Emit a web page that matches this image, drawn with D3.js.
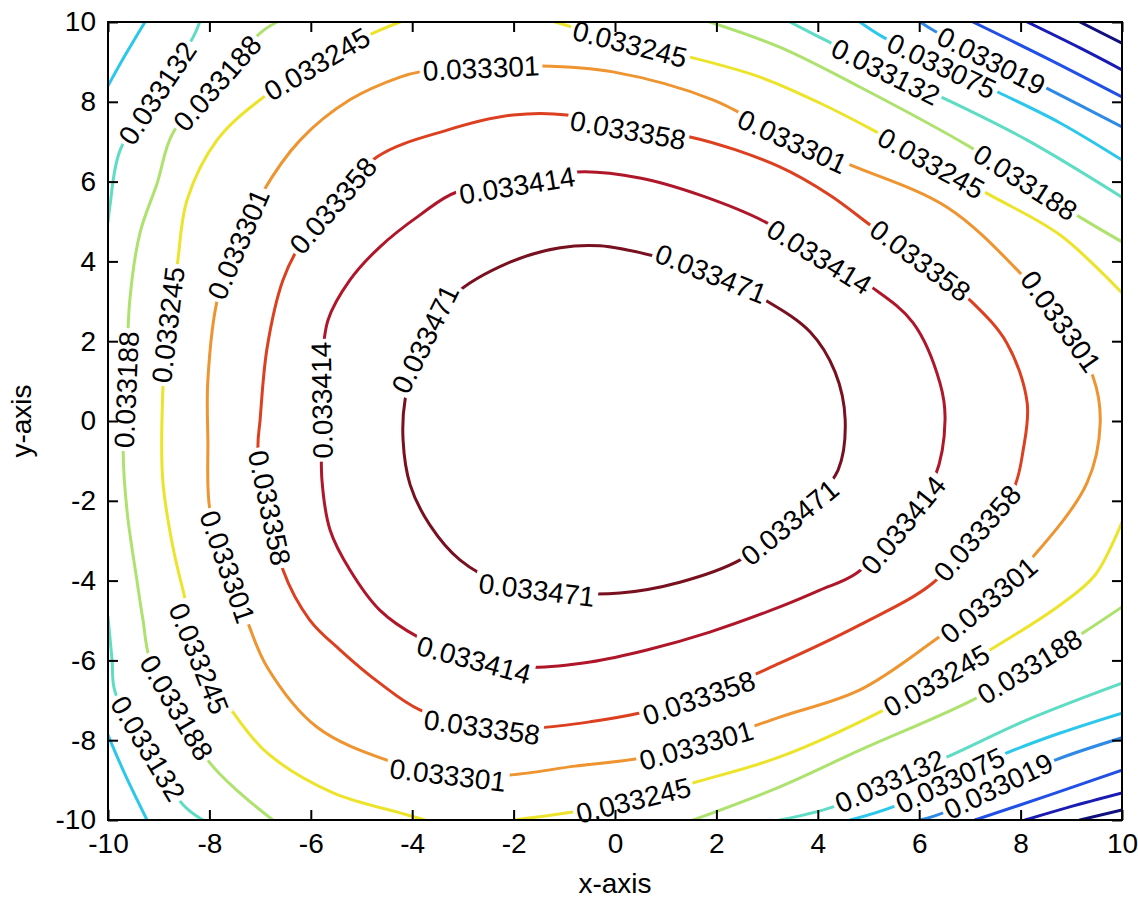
<!DOCTYPE html>
<html>
<head>
<meta charset="utf-8">
<script src="https://cdn.jsdelivr.net/npm/d3@7"></script>
<style>
  html, body { margin: 0; padding: 0; background: #ffffff; }
  svg text { font-family: "Liberation Sans", Arial, Helvetica, sans-serif; fill: #000; }
</style>
</head>
<body>
<svg id="chart" width="1138" height="899"></svg>
<script>
// Contour levels (low to high) and their jet-style colours
const levels = [0.032850, 0.032906, 0.032962, 0.033019, 0.033075, 0.033132,
                0.033188, 0.033245, 0.033301, 0.033358, 0.033414, 0.033471];
const levelColors = ["#10107e", "#1a1ab4", "#2250e6", "#2f8ae6", "#2cc8ec", "#5edcc4",
                     "#aee26e", "#ece42a", "#ee9430", "#dc4020", "#b0162a", "#781020"];

const xTickValues = [-10, -8, -6, -4, -2, 0, 2, 4, 6, 8, 10];
const yTickValues = [-10, -8, -6, -4, -2, 0, 2, 4, 6, 8, 10];

// Contour traces, [x, y] in axis units
const contour_033471 = [[-1.08,4.34],[-0.30,4.39],[0.75,4.14],[1.87,3.71],[2.96,3.03],[3.85,2.23],[4.34,1.23],[4.54,0.03],[4.40,-1.23],[3.94,-1.98],[3.45,-2.53],[2.47,-3.48],[1.28,-4.04],[0.10,-4.31],[-1.08,-4.29],[-2.27,-4.04],[-3.06,-3.48],[-3.65,-2.61],[-4.04,-1.60],[-4.18,-0.48],[-4.14,0.53],[-3.85,1.78],[-3.16,3.16],[-2.07,3.98]];
const contour_033414 = [[-1.93,5.91],[-0.75,6.24],[0.49,6.09],[1.68,5.66],[2.96,4.99],[4.04,4.11],[5.09,3.33],[5.88,2.46],[6.41,0.95],[6.51,0.03],[6.31,-1.40],[5.68,-2.61],[4.77,-3.81],[4.04,-4.24],[3.25,-4.66],[1.87,-5.29],[0.63,-5.74],[-0.49,-6.04],[-1.68,-6.17],[-2.76,-5.99],[-3.89,-5.41],[-4.64,-4.74],[-5.23,-3.73],[-5.62,-2.73],[-5.78,-1.48],[-5.78,0.03],[-5.78,1.28],[-5.66,2.53],[-5.23,3.53],[-4.64,4.36],[-3.85,5.16],[-3.12,5.74]];
const contour_033358 = [[0.26,7.29],[1.48,7.12],[3.25,6.37],[4.24,5.66],[5.09,4.86],[6.07,3.98],[7.00,3.03],[7.73,1.95],[8.13,0.45],[8.05,-0.73],[7.85,-1.73],[7.14,-2.81],[6.27,-4.06],[4.83,-5.11],[3.25,-6.07],[1.68,-6.92],[0.49,-7.32],[-0.49,-7.54],[-1.54,-7.69],[-2.62,-7.67],[-3.85,-7.24],[-4.64,-6.57],[-5.42,-5.74],[-6.02,-4.99],[-6.55,-3.73],[-6.80,-2.23],[-7.04,-0.73],[-7.00,0.03],[-6.86,1.85],[-6.55,3.53],[-6.21,4.41],[-5.56,5.41],[-4.69,6.62],[-3.31,7.29],[-2.01,7.67],[-0.95,7.67]];
const contour_033301 = [[-3.85,8.75],[-2.64,8.85],[-1.48,8.90],[-0.04,8.75],[1.93,8.05],[3.45,7.04],[4.64,6.42],[6.55,5.36],[7.99,3.71],[8.78,2.53],[9.43,1.10],[9.57,-0.05],[9.31,-1.55],[8.24,-3.41],[7.36,-4.49],[6.31,-5.49],[4.83,-6.74],[3.25,-7.42],[1.62,-8.12],[0.49,-8.45],[-0.79,-8.65],[-2.07,-8.87],[-3.29,-8.87],[-4.50,-8.50],[-5.88,-7.67],[-6.86,-6.17],[-7.26,-4.99],[-7.63,-3.68],[-7.99,-2.23],[-8.03,-0.48],[-8.03,1.03],[-7.83,3.11],[-7.44,4.41],[-6.96,5.71],[-6.21,7.04],[-5.23,8.05],[-4.24,8.62]];
const contour_033245_top = [[-1.18,10.00],[-0.30,9.67],[0.30,9.45],[1.48,9.12],[2.86,8.62],[4.04,7.97],[5.09,7.29],[6.23,6.47],[7.40,5.66],[8.78,4.66],[10.00,3.21]];
const contour_033245_bottom = [[10.00,-2.53],[9.47,-3.86],[8.78,-4.61],[7.46,-5.69],[6.35,-6.49],[5.23,-7.29],[3.25,-8.42],[1.54,-9.07],[0.36,-9.50],[-0.83,-9.80],[-2.01,-10.00]];
const contour_033245_left = [[-3.75,-10.00],[-4.24,-9.82],[-5.56,-9.32],[-6.86,-8.32],[-7.54,-7.29],[-8.19,-5.99],[-8.44,-4.66],[-8.72,-3.16],[-8.92,-1.48],[-8.92,0.70],[-8.82,2.41],[-8.64,3.86],[-8.44,5.54],[-7.85,7.04],[-7.00,8.05],[-5.88,8.95],[-4.77,9.72],[-4.24,10.00]];
const contour_033188_left = [[-6.67,10.00],[-7.00,9.72],[-7.85,8.47],[-8.72,7.22],[-9.03,5.96],[-9.37,4.71],[-9.57,3.03],[-9.64,0.78],[-9.70,-0.80],[-9.62,-2.31],[-9.43,-3.99],[-9.31,-4.99],[-9.17,-5.99],[-8.64,-7.19],[-7.99,-8.57],[-7.40,-9.32],[-6.75,-10.00]];
const contour_033188_top = [[1.87,10.00],[3.25,9.37],[4.83,8.37],[7.00,6.87],[8.09,5.99],[9.17,5.11],[10.00,4.49]];
const contour_033188_bottom = [[10.00,-4.66],[9.23,-5.31],[8.15,-6.17],[7.06,-6.99],[4.83,-8.25],[3.25,-9.17],[1.54,-10.00]];
const contour_033132_upperLeft = [[-8.19,10.00],[-8.32,9.62],[-9.03,8.22],[-9.76,6.79],[-9.96,5.41],[-10.00,4.99]];
const contour_033132_lowerLeft = [[-10.00,-4.91],[-9.92,-5.99],[-9.86,-6.79],[-9.21,-8.20],[-8.52,-9.62],[-8.13,-10.00]];
const contour_033132_top = [[3.45,10.00],[4.14,9.55],[5.35,8.75],[6.55,8.05],[8.13,7.04],[10.00,5.61]];
const contour_033132_bottom = [[10.00,-6.57],[8.13,-7.49],[6.55,-8.42],[5.42,-9.02],[4.30,-9.67],[3.25,-10.00]];
const contour_033075_upperLeft = [[-10.00,8.40],[-9.66,9.17],[-9.27,10.00]];
const contour_033075_lowerLeft = [[-10.00,-7.87],[-9.66,-8.87],[-9.23,-10.00]];
const contour_033075_top = [[4.83,10.00],[5.29,9.62],[6.45,8.90],[7.59,8.22],[8.78,7.47],[10.00,6.54]];
const contour_033075_bottom = [[10.00,-7.32],[8.78,-7.82],[7.73,-8.32],[6.61,-9.00],[5.48,-9.67],[4.64,-10.00]];
const contour_033019_top = [[6.02,10.00],[6.27,9.80],[7.40,9.05],[8.58,8.30],[10.00,7.37]];
const contour_033019_bottom = [[10.00,-7.94],[8.68,-8.50],[7.55,-9.15],[6.51,-9.80],[6.02,-10.00]];
const contour_032962_top = [[7.06,10.00],[8.58,9.05],[10.00,8.12]];
const contour_032962_bottom = [[10.00,-8.75],[8.58,-9.37],[7.10,-10.00]];
const contour_032906_top = [[8.13,10.00],[9.17,9.35],[10.00,8.80]];
const contour_032906_bottom = [[10.00,-9.32],[8.97,-9.67],[8.09,-10.00]];
const contour_032850_top = [[9.17,10.00],[10.00,9.47]];
const contour_032850_bottom = [[10.00,-9.75],[9.17,-10.00]];

const contourPieces = [
  { level: 0.033471, points: contour_033471, closed: true },
  { level: 0.033414, points: contour_033414, closed: true },
  { level: 0.033358, points: contour_033358, closed: true },
  { level: 0.033301, points: contour_033301, closed: true },
  { level: 0.033245, points: contour_033245_top },
  { level: 0.033245, points: contour_033245_bottom },
  { level: 0.033245, points: contour_033245_left },
  { level: 0.033188, points: contour_033188_left },
  { level: 0.033188, points: contour_033188_top },
  { level: 0.033188, points: contour_033188_bottom },
  { level: 0.033132, points: contour_033132_upperLeft },
  { level: 0.033132, points: contour_033132_lowerLeft },
  { level: 0.033132, points: contour_033132_top },
  { level: 0.033132, points: contour_033132_bottom },
  { level: 0.033075, points: contour_033075_upperLeft },
  { level: 0.033075, points: contour_033075_lowerLeft },
  { level: 0.033075, points: contour_033075_top },
  { level: 0.033075, points: contour_033075_bottom },
  { level: 0.033019, points: contour_033019_top },
  { level: 0.033019, points: contour_033019_bottom },
  { level: 0.032962, points: contour_032962_top },
  { level: 0.032962, points: contour_032962_bottom },
  { level: 0.032906, points: contour_032906_top },
  { level: 0.032906, points: contour_032906_bottom },
  { level: 0.032850, points: contour_032850_top },
  { level: 0.032850, points: contour_032850_bottom }
];

// Where each inline level label sits (axis units); snapped onto its contour
const labels_033471 = [[1.85,3.58],[-3.71,2.03],[-1.54,-4.24],[3.45,-2.53]];
const labels_033414 = [[-1.93,5.91],[4.02,4.11],[5.68,-2.61],[-2.76,-5.89],[-5.78,0.53]];
const labels_033358 = [[0.26,7.29],[-5.56,5.41],[6.07,4.09],[7.14,-2.81],[1.68,-7.07],[-2.62,-7.67],[-6.96,-2.23]];
const labels_033301 = [[-2.64,8.80],[3.49,6.99],[8.78,2.48],[7.36,-4.49],[1.62,-8.20],[-3.29,-8.87],[-7.63,-3.66],[-7.40,4.41]];
const labels_033245 = [[0.30,9.42],[-5.88,8.95],[-8.82,2.41],[-8.19,-5.94],[0.36,-9.50],[6.35,-6.54],[6.23,6.47]];
const labels_033188 = [[-7.85,8.47],[-9.60,0.78],[-8.64,-7.19],[8.09,5.99],[8.15,-6.12]];
const labels_033132 = [[-9.03,8.22],[-9.21,-8.20],[5.35,8.75],[5.42,-9.02]];
const labels_033075 = [[6.45,8.90],[6.61,-9.00]];
const labels_033019 = [[7.42,9.05],[7.55,-9.15]];

const labelSets = [
  { level: 0.033471, anchors: labels_033471 },
  { level: 0.033414, anchors: labels_033414 },
  { level: 0.033358, anchors: labels_033358 },
  { level: 0.033301, anchors: labels_033301 },
  { level: 0.033245, anchors: labels_033245 },
  { level: 0.033188, anchors: labels_033188 },
  { level: 0.033132, anchors: labels_033132 },
  { level: 0.033075, anchors: labels_033075 },
  { level: 0.033019, anchors: labels_033019 }
];

// ---------------------------------------------------------------
const W = 1138, H = 899;
const plot = { left: 108, top: 22, right: 1122, bottom: 820 };
const FONT = 28;

const svg = d3.select("#chart");
svg.append("rect").attr("width", W).attr("height", H).attr("fill", "#fff");

const x = d3.scaleLinear().domain([-10, 10]).range([plot.left, plot.right]);
const y = d3.scaleLinear().domain([-10, 10]).range([plot.bottom, plot.top]);
const color = d3.scaleOrdinal().domain(levels).range(levelColors);
const fmt = d3.format(".6f");

const defs = svg.append("defs");
defs.append("clipPath").attr("id", "plot-clip")
  .append("rect")
  .attr("x", plot.left).attr("y", plot.top)
  .attr("width", plot.right - plot.left).attr("height", plot.bottom - plot.top);

const openLine = d3.line().x(d => x(d[0])).y(d => y(d[1])).curve(d3.curveCatmullRom.alpha(0.5));
const closedLine = d3.line().x(d => x(d[0])).y(d => y(d[1])).curve(d3.curveCatmullRomClosed.alpha(0.5));

const contourLayer = svg.append("g").attr("clip-path", "url(#plot-clip)");
const labelLayer = svg.append("g").attr("font-size", FONT);

const piecesByLevel = d3.group(contourPieces, d => d.level);
const labelsByLevel = new Map(labelSets.map(d => [d.level, d.anchors]));

levels.forEach((lv, i) => {
  const pieces = piecesByLevel.get(lv) || [];
  if (!pieces.length) return;
  const maskId = "label-gap-" + i;
  const mask = defs.append("mask").attr("id", maskId)
    .attr("maskUnits", "userSpaceOnUse")
    .attr("x", 0).attr("y", 0).attr("width", W).attr("height", H);
  mask.append("rect").attr("x", 0).attr("y", 0).attr("width", W).attr("height", H).attr("fill", "#fff");

  const g = contourLayer.append("g").attr("mask", `url(#${maskId})`);
  const nodes = pieces.map(p => g.append("path")
    .attr("d", (p.closed ? closedLine : openLine)(p.points))
    .attr("fill", "none")
    .attr("stroke", color(lv))
    .attr("stroke-width", 3)
    .attr("stroke-linejoin", "round")
    .attr("stroke-linecap", "round")
    .node());

  (labelsByLevel.get(lv) || []).forEach(a => {
    const px = x(a[0]), py = y(a[1]);
    let best = null;
    nodes.forEach(node => {
      const L = node.getTotalLength();
      for (let s = 0; s <= L; s += 1) {
        const pt = node.getPointAtLength(s);
        const d = (pt.x - px) ** 2 + (pt.y - py) ** 2;
        if (!best || d < best.d) best = { d, node, s, L, pt };
      }
    });
    const p0 = best.node.getPointAtLength(Math.max(0, best.s - 8));
    const p1 = best.node.getPointAtLength(Math.min(best.L, best.s + 8));
    let ang = Math.atan2(p1.y - p0.y, p1.x - p0.x) * 180 / Math.PI;
    if (ang > 90) ang -= 180;
    else if (ang <= -90) ang += 180;
    if (ang > 86) ang -= 180;
    const tf = `translate(${best.pt.x},${best.pt.y}) rotate(${ang})`;
    const t = labelLayer.append("text")
      .attr("transform", tf)
      .attr("text-anchor", "middle")
      .attr("dy", "0.36em")
      .text(fmt(lv));
    const w = t.node().getComputedTextLength();
    mask.append("rect")
      .attr("x", -w / 2 - 3).attr("y", -12)
      .attr("width", w + 6).attr("height", 24)
      .attr("transform", tf)
      .attr("fill", "#000");
  });
});

// Axes: ticks point inward on all four sides
const tickFmt = d => String(d);
const axisStyle = sel => {
  sel.select(".domain").remove();
  sel.selectAll(".tick line").attr("stroke", "#000").attr("stroke-width", 2);
  sel.selectAll(".tick text").attr("font-size", FONT).attr("fill", "#000")
    .style("font-family", '"Liberation Sans", Arial, sans-serif');
};

svg.append("g").attr("transform", `translate(0,${plot.bottom})`)
  .call(d3.axisBottom(x).tickValues(xTickValues).tickFormat(tickFmt)
    .tickSizeInner(-10).tickSizeOuter(0).tickPadding(13))
  .call(axisStyle);
svg.append("g").attr("transform", `translate(0,${plot.top})`)
  .call(d3.axisTop(x).tickValues(xTickValues).tickFormat("")
    .tickSizeInner(-10).tickSizeOuter(0))
  .call(axisStyle);
svg.append("g").attr("transform", `translate(${plot.left},0)`)
  .call(d3.axisLeft(y).tickValues(yTickValues).tickFormat(tickFmt)
    .tickSizeInner(-10).tickSizeOuter(0).tickPadding(12))
  .call(axisStyle);
svg.append("g").attr("transform", `translate(${plot.right},0)`)
  .call(d3.axisRight(y).tickValues(yTickValues).tickFormat("")
    .tickSizeInner(-10).tickSizeOuter(0))
  .call(axisStyle);

svg.append("rect")
  .attr("x", plot.left).attr("y", plot.top)
  .attr("width", plot.right - plot.left).attr("height", plot.bottom - plot.top)
  .attr("fill", "none").attr("stroke", "#000").attr("stroke-width", 2);

svg.append("text")
  .attr("x", (plot.left + plot.right) / 2).attr("y", 893)
  .attr("text-anchor", "middle").attr("font-size", FONT)
  .text("x-axis");
svg.append("text")
  .attr("transform", `translate(31,${(plot.top + plot.bottom) / 2}) rotate(-90)`)
  .attr("text-anchor", "middle").attr("font-size", FONT)
  .text("y-axis");
</script>
</body>
</html>
